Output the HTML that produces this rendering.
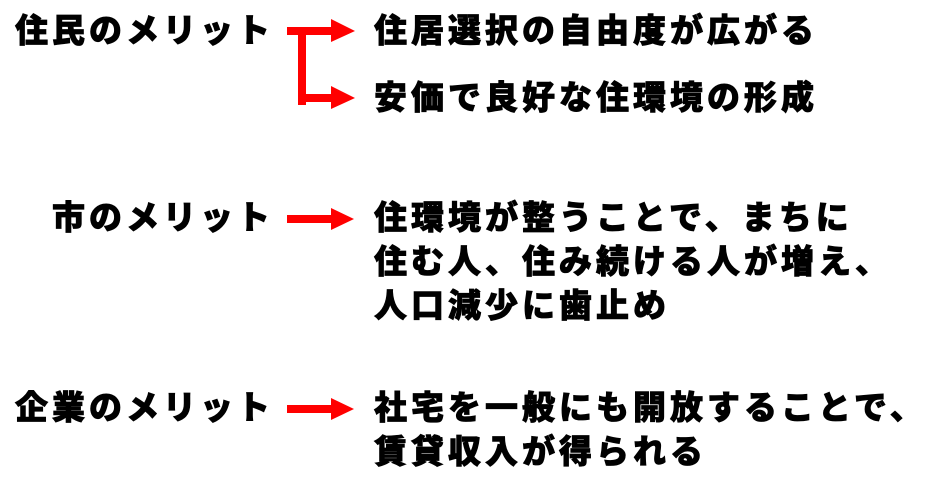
<!DOCTYPE html>
<html><head><meta charset="utf-8"><style>
body{margin:0;width:933px;height:503px;background:#fff;position:relative;overflow:hidden}
.t{position:absolute;font-family:"Liberation Sans","Noto Sans CJK JP",sans-serif;font-weight:900;font-size:33px;letter-spacing:4px;line-height:44px;color:#000;white-space:nowrap;-webkit-text-stroke:0.8px #000}
.l{text-align:right;right:659px}
svg{position:absolute;left:0;top:0}
</style></head><body>
<svg width="933" height="503">
<g fill="#f00">
<rect x="287" y="27" width="45" height="8"/><polygon points="331,19 355,31 331,42"/>
<rect x="298" y="27" width="8" height="78"/>
<rect x="298" y="94" width="34" height="8"/><polygon points="331,86 355,98 331,109"/>
<rect x="287" y="215" width="45" height="8"/><polygon points="331,208 354,219 331,230"/>
<rect x="287" y="405" width="45" height="8"/><polygon points="331,398 354,409 331,420"/>
</g></svg>
<div class="t l" style="top:9px">住民のメリット</div>
<div class="t" style="left:374px;top:9px">住居選択の自由度が広がる</div>
<div class="t" style="left:374px;top:76px">安価で良好な住環境の形成</div>
<div class="t l" style="top:196px">市のメリット</div>
<div class="t" style="left:374px;top:196px">住環境が整うことで、まちに<br>住む人、住み続ける人が増え、<br>人口減少に歯止め</div>
<div class="t l" style="top:386px">企業のメリット</div>
<div class="t" style="left:374px;top:386px">社宅を一般にも開放することで、<br>賃貸収入が得られる</div>
</body></html>
